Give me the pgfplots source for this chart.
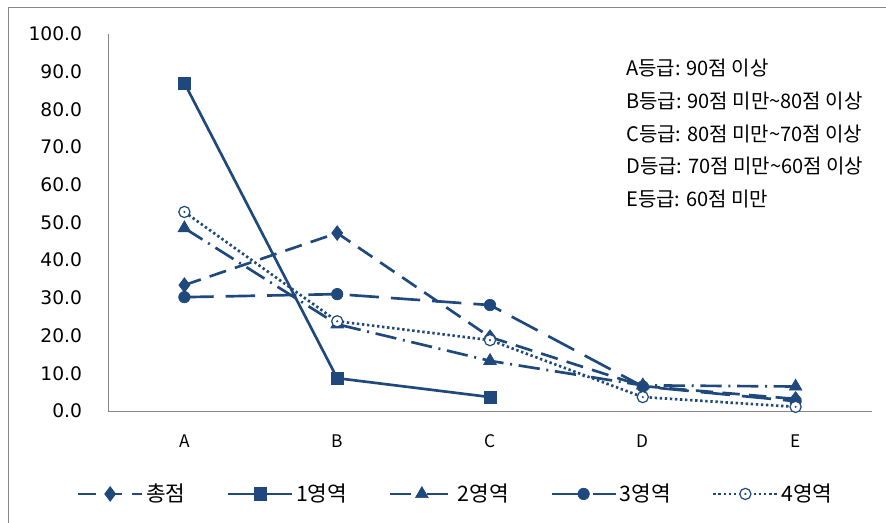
\documentclass[border=0pt]{standalone}
\usepackage{fontspec}
\setmainfont{Noto Sans CJK KR}
\newfontfamily\tickfont{DejaVu Sans}
\usepackage{pgfplots}
\pgfplotsset{compat=1.18}
\definecolor{lc}{RGB}{31,73,125}
\definecolor{axgray}{RGB}{134,134,134}
\pgfdeclareplotmark{odot}{%
  \begin{pgfscope}\pgfsetfillcolor{white}%
  \pgfpathcircle{\pgfpointorigin}{\pgfplotmarksize}\pgfusepathqfillstroke
  \end{pgfscope}%
  \pgfpathcircle{\pgfpointorigin}{0.9pt}\pgfusepathqfill}
\begin{document}
\begin{tikzpicture}
\useasboundingbox (0,0) rectangle (664.5pt,391.5pt);
\draw[axgray, line width=0.75pt] (6pt,-20pt) -- (6pt,385.5pt) -- (700pt,385.5pt);
\begin{axis}[
  at={(81pt,83.25pt)}, anchor=south west,
  scale only axis, width=573pt, height=282.75pt,
  xmin=-0.5, xmax=4.5, ymin=0, ymax=100,
  axis lines*=left,
  axis line style={axgray, line width=0.75pt},
  xtick={0,1,2,3,4}, xticklabels={A,B,C,D,E},
  ytick={0,10,...,100},
  major tick length=0pt,
  clip=false,
  /pgf/number format/assume math mode=true,
  /pgf/number format/fixed,
  /pgf/number format/fixed zerofill,
  /pgf/number format/precision=1,
  yticklabel style={font=\tickfont\fontsize{14}{16}\selectfont, anchor=east, xshift=-16pt},
  xticklabel style={font=\fontsize{13}{15}\selectfont, yshift=-14pt},
  legend columns=5,
  legend style={at={(0.4555,-0.22)}, anchor=center, draw=none, fill=none,
    font=\fontsize{16}{18}\selectfont, /tikz/every even column/.append style={column sep=29pt}},
  legend image code/.code={\draw[mark repeat=2,mark phase=2] plot coordinates {(0pt,0pt) (24pt,0pt) (48pt,0pt)};},
  every axis plot/.append style={line width=2pt, color=lc},
]
\addplot[dash pattern=on 13pt off 7pt, mark=diamond*, mark size=5.5pt, mark options={solid, line width=0.5pt}]
  coordinates {(0,33.4) (1,47.2) (2,19.6) (3,6.6) (4,3.2)};
\addlegendentry{총점}
\addplot[solid, mark=square*, mark size=4.6pt, mark options={solid, line width=0.5pt}]
  coordinates {(0,87.0) (1,8.7) (2,3.7)};
\addlegendentry{1영역}
\addplot[dash pattern=on 16pt off 5pt on 1.5pt off 5pt, mark=triangle*, mark size=5.5pt, mark options={solid, line width=0.5pt}]
  coordinates {(0,48.5) (1,23.0) (2,13.3) (3,6.8) (4,6.5)};
\addlegendentry{2영역}
\addplot[dash pattern=on 22pt off 9pt, mark=*, mark size=4.3pt, mark options={solid, line width=0.5pt}]
  coordinates {(0,30.2) (1,31.0) (2,28.1) (3,6.5) (4,2.6)};
\addlegendentry{3영역}
\addplot[dash pattern=on 1.8pt off 2pt, line width=2pt, mark=odot, mark size=4.2pt, mark options={solid, line width=0.9pt}]
  coordinates {(0,52.8) (1,23.8) (2,18.8) (3,3.7) (4,1.1)};
\addlegendentry{4영역}
\end{axis}
\begin{scope}[font=\fontsize{15}{17}\selectfont]
\node[anchor=west, inner sep=0pt] at (469.5pt,340.5pt) {A등급: 90점 이상};
\node[anchor=west, inner sep=0pt] at (469.5pt,315.75pt) {B등급: 90점 미만\textasciitilde 80점 이상};
\node[anchor=west, inner sep=0pt] at (469.5pt,291pt) {C등급: 80점 미만\textasciitilde 70점 이상};
\node[anchor=west, inner sep=0pt] at (469.5pt,267pt) {D등급: 70점 미만\textasciitilde 60점 이상};
\node[anchor=west, inner sep=0pt] at (469.5pt,242.25pt) {E등급: 60점 미만};
\end{scope}
\end{tikzpicture}
\end{document}
